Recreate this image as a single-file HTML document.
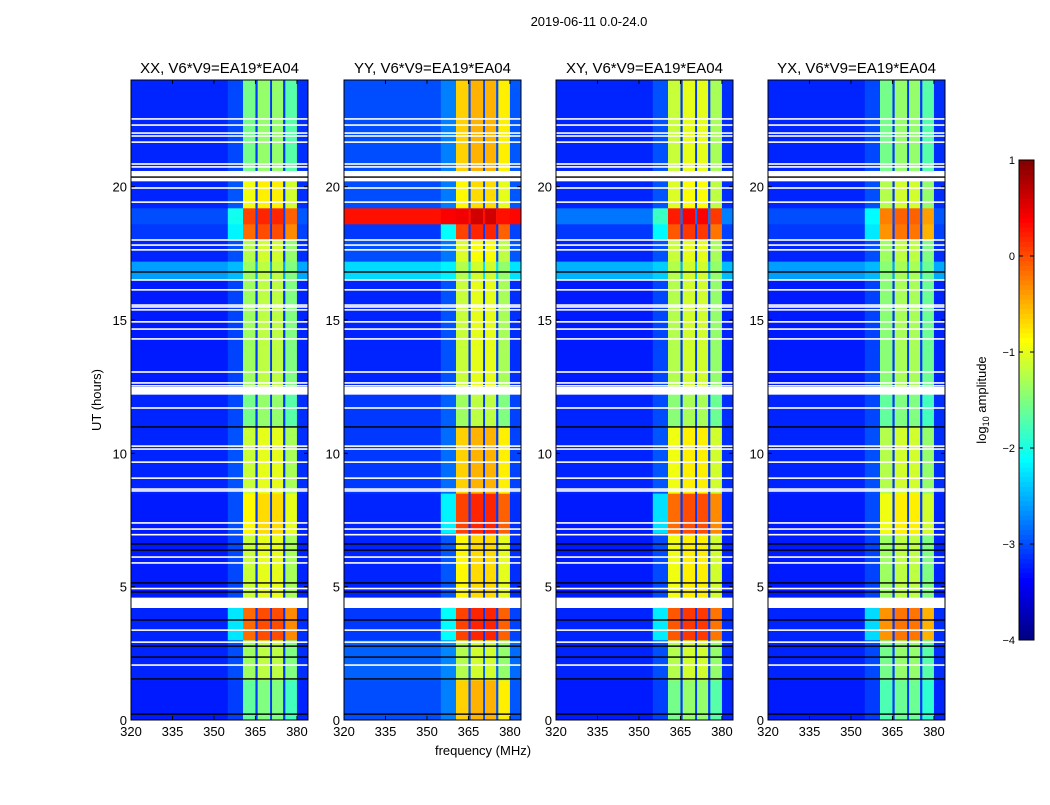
<!DOCTYPE html>
<html><head><meta charset="utf-8"><style>
body{margin:0;background:#fff;}
svg text{font-family:"Liberation Sans",sans-serif;}
</style></head><body>
<svg id="fig" width="1050" height="800" xmlns="http://www.w3.org/2000/svg">
<text x="589" y="26" font-size="13" text-anchor="middle">2019-06-11 0.0-24.0</text>
<text x="101" y="400" font-size="13" text-anchor="middle" transform="rotate(-90 101 400)">UT (hours)</text>
<text x="483" y="755" font-size="13" text-anchor="middle">frequency (MHz)</text>
<g id="panels"></g>
<g id="cbar"></g>
<text x="986" y="400" font-size="13" text-anchor="middle" transform="rotate(-90 986 400)">log<tspan font-size="9" dy="3">10</tspan><tspan dy="-3"> amplitude</tspan></text>
</svg>
<script>
const titles = ["XX, V6*V9=EA19*EA04","YY, V6*V9=EA19*EA04","XY, V6*V9=EA19*EA04","YX, V6*V9=EA19*EA04"];
const segStart = [0,1.5,3.0,4.2,4.6,7.0,8.5,11,12.2,12.5,16.5,17.2,18.0,18.6,19.2,20.2,20.6];
const segEnd   = [1.5,3.0,4.2,4.6,7.0,8.5,11,12.2,12.5,16.5,17.2,18.0,18.6,19.2,20.2,20.6,24];
const stripXX = [-1.5,-1.2,0.0,null,-1.0,-0.7,-1.0,-1.4,null,-1.2,-1.2,-1.1,0.0,0.2,-0.8,null,-1.4];
const stripYY = [-0.5,-1.1,0.2,null,-0.7,0.2,-0.5,-1.2,null,-1.0,-1.1,-0.9,0.2,0.6,-0.7,null,-0.5];
const stripXY = [-1.4,-1.1,0.1,null,-0.8,0.0,-0.8,-1.3,null,-1.1,-1.1,-1.0,0.1,0.4,-0.9,null,-1.0];
const stripYX = [-1.6,-1.4,-0.2,null,-1.2,-0.8,-1.1,-1.5,null,-1.3,-1.3,-1.2,-0.2,-0.1,-1.1,null,-1.4];
const bgXX = [-3.25,-3.2,-3.2,null,-3.25,-3.25,-3.2,-3.2,null,-3.25,-2.6,-3.2,-3.1,-3.0,-3.2,null,-3.2];
const bgYY = [-3.0,-2.9,-3.1,null,-3.2,-3.2,-3.1,-3.1,null,-3.2,-2.3,-3.0,-3.1,0.3,-3.0,null,-3.0];
const bgXY = [-3.25,-3.2,-3.2,null,-3.25,-3.25,-3.2,-3.2,null,-3.25,-2.5,-3.2,-3.1,-2.8,-3.2,null,-3.2];
const bgYX = [-3.25,-3.2,-3.2,null,-3.25,-3.25,-3.2,-3.2,null,-3.25,-2.6,-3.2,-3.1,-3.0,-3.2,null,-3.2];
const whiteFlags = [22.54,22.31,22.01,21.9,21.67,20.85,20.74,19.95,19.42,18.0,17.81,17.63,16.5,16.13,15.56,15.49,15.38,14.93,14.66,14.29,13.05,12.64,12.53,11.7,10.27,10.16,9.67,9.07,8.66,8.59,7.39,7.16,6.95,6.11,5.89,4.93,3.37,2.92,2.06];
const blackFlags = [20.36,10.99,6.6,6.37,5.14,4.8,3.75,2.77,2.36,1.54,0.22,16.8];
const xTicks = [320,335,350,365,380];
const yTicks = [0,5,10,15,20];
const cbTicks = [1,0,-1,-2,-3,-4];
const chanLo = [320,355,360.5,365,365.8,370.3,371,375,375.8,380];
const chanHi = [355,360.5,365,365.8,370.3,371,375,375.8,380,384];
const chanKind = ["bg","halo","strip1","notch","strip","notch","strip","notch","strip2","edge"];

const strips=[stripXX,stripYY,stripXY,stripYX], bgs=[bgXX,bgYY,bgXY,bgYX];
const px0=[131,344,556,768], PW=177, PT=80, PB=720;
const NS="http://www.w3.org/2000/svg";
function xs(p,f){return px0[p]+(f-320)*PW/64;}
function ys(h){return PB-h*(PB-PT)/24;}
function jet(v){let t=Math.max(0,Math.min(1,(v+4)/5));const c=x=>Math.round(255*Math.max(0,Math.min(1,1.5-Math.abs(4*t-x))));return `rgb(${c(3)},${c(2)},${c(1)})`;}
function mk(tag,attrs,parent){const e=document.createElementNS(NS,tag);for(const k in attrs)e.setAttribute(k,attrs[k]);parent.appendChild(e);return e;}
const G=document.getElementById('panels');
for(let p=0;p<4;p++){
  const g=mk('g',{},G);
  
  
  for(let s=0;s<segStart.length;s++){
    const sv=strips[p][s], bv=bgs[p][s];
    const y1=ys(segEnd[s]), y2=ys(segStart[s]);
    if(sv===null){continue;}
    for(let c=0;c<chanLo.length;c++){
      let v; const k=chanKind[c];
      if(k==="bg")v=bv; else if(k==="halo")v=(sv>-0.3)?bv+0.3*(sv-bv):bv+0.1*(sv-bv); else if(k==="strip")v=sv; else if(k==="strip1")v=sv-0.15; else if(k==="strip2")v=sv-0.3; else if(k==="notch")v=Math.max(bv,-3.1); else v=bv+0.05;
      const r=mk('rect',{x:xs(p,chanLo[c]),y:y1,width:xs(p,chanHi[c])-xs(p,chanLo[c])+0.3,height:y2-y1+0.3,fill:jet(v)},g);
      
      
    }
  }
  for(const h of whiteFlags){const r=mk('rect',{x:px0[p],y:ys(h)-0.8,width:PW,height:1.6,fill:'#fff'},g);
    
    }
  for(const h of blackFlags){const r=mk('rect',{x:px0[p],y:ys(h)-0.7,width:PW,height:1.4,fill:'#000'},g);
    
    }
  mk('rect',{x:px0[p],y:PT,width:PW,height:PB-PT,fill:'none',stroke:'#000','stroke-width':1},g);
  const t=mk('text',{x:px0[p]+PW/2,y:73,'font-size':15,'text-anchor':'middle'},g);t.textContent=titles[p];
  
  
  for(const f of xTicks){const x=xs(p,f);
    mk('line',{x1:x,x2:x,y1:PB,y2:PB-4,stroke:'#000'},g);mk('line',{x1:x,x2:x,y1:PT,y2:PT+4,stroke:'#000'},g);
    const l=mk('text',{x:x,y:PB+16,'font-size':13,'text-anchor':'middle'},g);l.textContent=f;
    
    }
  for(const h of yTicks){const y=ys(h);
    mk('line',{x1:px0[p],x2:px0[p]+4,y1:y,y2:y,stroke:'#000'},g);mk('line',{x1:px0[p]+PW,x2:px0[p]+PW-4,y1:y,y2:y,stroke:'#000'},g);
    const l=mk('text',{x:px0[p]-4,y:y+5,'font-size':13,'text-anchor':'end'},g);l.textContent=h;
    
    }
}
const CB=document.getElementById('cbar');
const cbX=1019,cbW=15,cbT=160,cbB=640;
for(let i=0;i<100;i++){const v=-4+5*(i+0.5)/100;const y=cbB-(i+1)*(cbB-cbT)/100;
  const r=mk('rect',{x:cbX,y:y,width:cbW,height:(cbB-cbT)/100+0.4,fill:jet(v)},CB);
  
  }
mk('rect',{x:cbX,y:cbT,width:cbW,height:cbB-cbT,fill:'none',stroke:'#000'},CB);
for(const v of cbTicks){const y=cbB-(v+4)/5*(cbB-cbT);
  mk('line',{x1:cbX,x2:cbX+4,y1:y,y2:y,stroke:'#000'},CB);mk('line',{x1:cbX+cbW,x2:cbX+cbW-4,y1:y,y2:y,stroke:'#000'},CB);
  const l=mk('text',{x:cbX-4,y:y+4,'font-size':11,'text-anchor':'end'},CB);l.textContent=v<0?'\u2212'+(-v):v;
  
  }
</script>
</body></html>
